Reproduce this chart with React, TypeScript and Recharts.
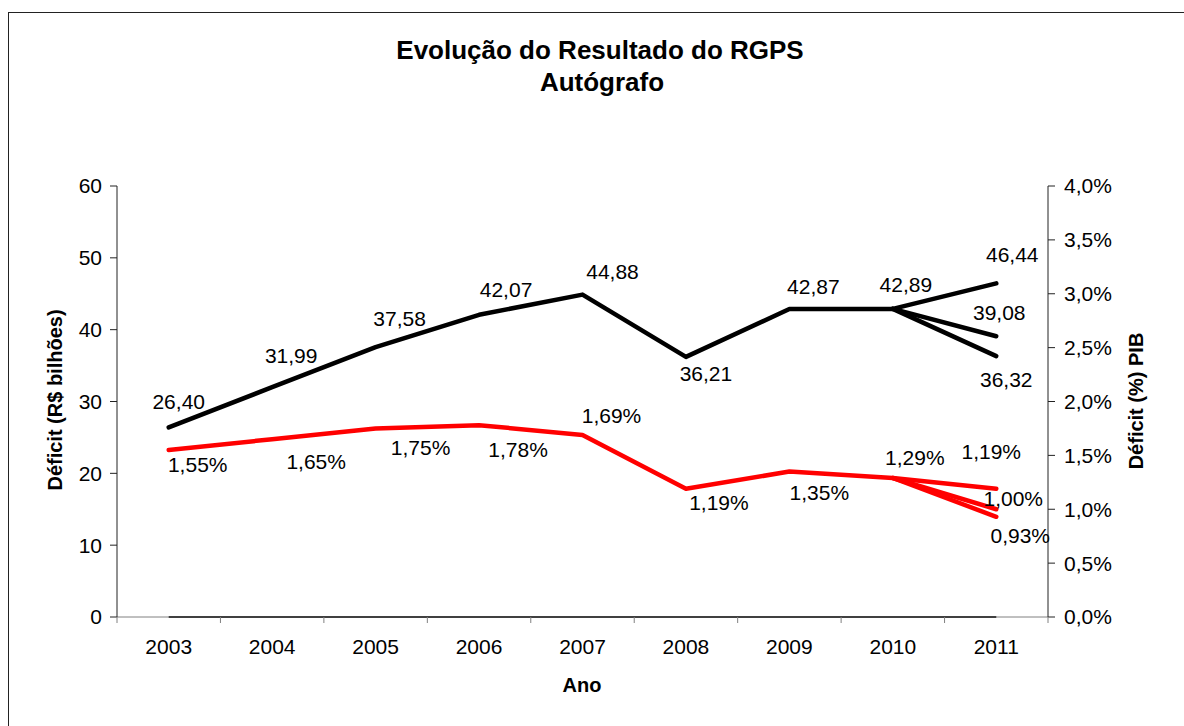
import React from 'react';
import { LineChart, Line, XAxis, YAxis } from 'recharts';

const anos = ['2003', '2004', '2005', '2006', '2007', '2008', '2009', '2010', '2011'];
const deficitBilhoes = [26.4, 31.99, 37.58, 42.07, 44.88, 36.21, 42.87, 42.89, 46.44];
const deficitBilhoesB = [null, null, null, null, null, null, null, 42.89, 39.08];
const deficitBilhoesC = [null, null, null, null, null, null, null, 42.89, 36.32];
const deficitPib = [1.55, 1.65, 1.75, 1.78, 1.69, 1.19, 1.35, 1.29, 1.19];
const deficitPibB = [null, null, null, null, null, null, null, 1.29, 1.0];
const deficitPibC = [null, null, null, null, null, null, null, 1.29, 0.93];
const serieZero = [0, 0, 0, 0, 0, 0, 0, 0, 0];
const ticksEsquerda = [0, 10, 20, 30, 40, 50, 60];
const ticksDireita = [0, 0.5, 1, 1.5, 2, 2.5, 3, 3.5, 4];

// label offsets (style only): [dx, dy baseline] relative to the point
const offDef = [[10, -18], [19, -24], [24, -21], [27, -18], [30, -16], [20, 24], [24, -15], [13, -17], [16, -21]];
const offDefB = { 8: [3, -16] } as Record<number, number[]>;
const offDefC = { 8: [10, 31] } as Record<number, number[]>;
const offPib = [[29, 22], [44, 30], [45, 27], [39, 32], [29, -12], [33, 21], [30, 28], [22, -13], [-5, -30]];
const offPibB = { 8: [17, -3] } as Record<number, number[]>;
const offPibC = { 8: [24, 26] } as Record<number, number[]>;

const data = anos.map((ano, i) => ({
  pos: i + 0.5,
  ano,
  def: deficitBilhoes[i],
  defB: deficitBilhoesB[i],
  defC: deficitBilhoesC[i],
  pib: deficitPib[i],
  pibB: deficitPibB[i],
  pibC: deficitPibC[i],
  zero: serieZero[i],
}));

const xTicks: number[] = [];
for (let k = 0; k <= 18; k++) xTicks.push(k / 2);

const FONT = '"Liberation Sans", Arial, sans-serif';

const fmtNum = (v: number) => v.toFixed(2).replace('.', ',');
const fmtPct = (v: number) => v.toFixed(2).replace('.', ',') + '%';

function makeLabel(offs: any, fmt: (v: number) => string, onlyIdx?: number) {
  return (props: any) => {
    const { x, y, index, value } = props;
    if (value == null || x == null || y == null) return null;
    if (onlyIdx != null && index !== onlyIdx) return null;
    const o = offs[index];
    if (!o) return null;
    return (
      <text
        key={'l' + index}
        x={x + o[0]}
        y={y + o[1]}
        textAnchor="middle"
        fontFamily={FONT}
        fontSize={21}
        fill="#000"
      >
        {fmt(value)}
      </text>
    );
  };
}

const XTick = (props: any) => {
  const { x, y, payload } = props;
  const v = payload.value;
  if (Number.isInteger(v)) {
    return <line x1={x} y1={y} x2={x} y2={y + 6} stroke="#808080" strokeWidth={1} />;
  }
  const idx = Math.floor(v);
  return (
    <text x={x} y={y + 37} textAnchor="middle" fontFamily={FONT} fontSize={21} fill="#000">
      {anos[idx]}
    </text>
  );
};

export default function App() {
  return (
    <div style={{ position: 'fixed', left: 0, top: 0, width: 1184, height: 726, overflow: 'hidden', background: '#fff' }}>
      <div
        style={{
          position: 'absolute',
          left: 8,
          top: 12,
          width: 1200,
          height: 800,
          borderLeft: '1.5px solid #222',
          borderTop: '1.5px solid #222',
          boxSizing: 'border-box',
        }}
      />
      <div style={{ position: 'absolute', left: 0, top: 0 }}>
        <LineChart
          width={1184}
          height={726}
          data={data}
          margin={{ top: 186, right: 56, bottom: 69, left: 57 }}
        >
          <XAxis
            dataKey="pos"
            type="number"
            domain={[0, 9]}
            ticks={xTicks}
            interval={0}
            tick={<XTick />}
            tickLine={false}
            tickSize={0}
            tickMargin={0}
            axisLine={{ stroke: '#808080', strokeWidth: 1 }}
            height={40}
            allowDecimals
          />
          <YAxis
            yAxisId="left"
            orientation="left"
            domain={[0, 60]}
            ticks={ticksEsquerda}
            interval={0}
            width={60}
            tickSize={7}
            tickMargin={8}
            axisLine={{ stroke: '#222', strokeWidth: 1 }}
            tickLine={{ stroke: '#222', strokeWidth: 1 }}
            tick={{ fontFamily: FONT, fontSize: 21, fill: '#000' }}
          />
          <YAxis
            yAxisId="right"
            orientation="right"
            domain={[0, 4]}
            ticks={ticksDireita}
            interval={0}
            width={80}
            tickSize={7}
            tickMargin={9}
            axisLine={{ stroke: '#222', strokeWidth: 1 }}
            tickLine={{ stroke: '#222', strokeWidth: 1 }}
            tick={{ fontFamily: FONT, fontSize: 21, fill: '#000' }}
            tickFormatter={(v: number) => v.toFixed(1).replace('.', ',') + '%'}
          />
          <Line
            yAxisId="left"
            dataKey="zero"
            stroke="#000"
            strokeWidth={2}
            dot={false}
            isAnimationActive={false}
          />
          <Line
            yAxisId="right"
            dataKey="pibC"
            stroke="#FF0000"
            strokeWidth={4.5}
            strokeLinecap="round"
            strokeLinejoin="round"
            dot={false}
            isAnimationActive={false}
            label={makeLabel(offPibC, fmtPct, 8)}
          />
          <Line
            yAxisId="right"
            dataKey="pibB"
            stroke="#FF0000"
            strokeWidth={4.5}
            strokeLinecap="round"
            strokeLinejoin="round"
            dot={false}
            isAnimationActive={false}
            label={makeLabel(offPibB, fmtPct, 8)}
          />
          <Line
            yAxisId="right"
            dataKey="pib"
            stroke="#FF0000"
            strokeWidth={4.5}
            strokeLinecap="round"
            strokeLinejoin="round"
            dot={false}
            isAnimationActive={false}
            label={makeLabel(offPib, fmtPct)}
          />
          <Line
            yAxisId="left"
            dataKey="defC"
            stroke="#000"
            strokeWidth={4.5}
            strokeLinecap="round"
            strokeLinejoin="round"
            dot={false}
            isAnimationActive={false}
            label={makeLabel(offDefC, fmtNum, 8)}
          />
          <Line
            yAxisId="left"
            dataKey="defB"
            stroke="#000"
            strokeWidth={4.5}
            strokeLinecap="round"
            strokeLinejoin="round"
            dot={false}
            isAnimationActive={false}
            label={makeLabel(offDefB, fmtNum, 8)}
          />
          <Line
            yAxisId="left"
            dataKey="def"
            stroke="#000"
            strokeWidth={4.5}
            strokeLinecap="round"
            strokeLinejoin="round"
            dot={false}
            isAnimationActive={false}
            label={makeLabel(offDef, fmtNum)}
          />
        </LineChart>
      </div>
      <svg
        width={1184}
        height={726}
        style={{ position: 'absolute', left: 0, top: 0, pointerEvents: 'none' }}
      >
        <text x={600} y={59} textAnchor="middle" fontFamily={FONT} fontWeight="bold" fontSize={26} fill="#000">
          Evolução do Resultado do RGPS
        </text>
        <text x={602} y={91} textAnchor="middle" fontFamily={FONT} fontWeight="bold" fontSize={26} fill="#000">
          Autógrafo
        </text>
        <text x={582} y={692} textAnchor="middle" fontFamily={FONT} fontWeight="bold" fontSize={20} fill="#000">
          Ano
        </text>
        <text
          x={0}
          y={0}
          transform="translate(62,400) rotate(-90)"
          textAnchor="middle"
          fontFamily={FONT}
          fontWeight="bold"
          fontSize={20}
          fill="#000"
        >
          Déficit (R$ bilhões)
        </text>
        <text
          x={0}
          y={0}
          transform="translate(1143,401) rotate(-90)"
          textAnchor="middle"
          fontFamily={FONT}
          fontWeight="bold"
          fontSize={20}
          fill="#000"
        >
          Déficit (%) PIB
        </text>
      </svg>
    </div>
  );
}
